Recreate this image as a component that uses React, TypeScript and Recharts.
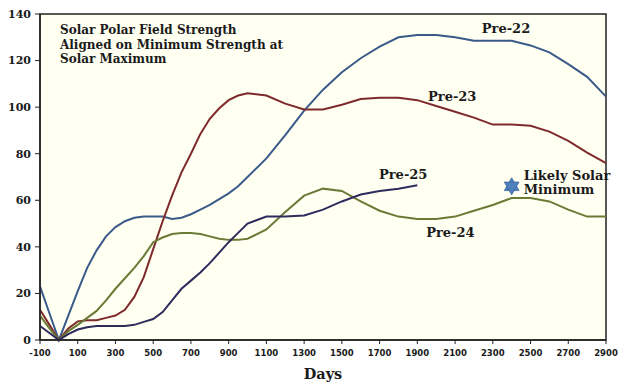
import { LineChart, Line, XAxis, YAxis, ReferenceArea, ReferenceDot, Scatter } from 'recharts';

const days = [-100, -50, 0, 50, 100, 150, 200, 250, 300, 350, 400, 450, 500, 550, 600, 650, 700, 750, 800, 850, 900, 950, 1000, 1100, 1200, 1300, 1400, 1500, 1600, 1700, 1800, 1900, 2000, 2100, 2200, 2300, 2400, 2500, 2600, 2700, 2800, 2900];

const pre22 = [23, 11.5, 0, 10.5, 21, 31, 38.5, 44.5, 48.5, 51, 52.5, 53, 53, 53, 52, 52.5, 54, 56, 58, 60.5, 63, 66, 70, 78, 88, 98.5, 107.5, 115, 121, 126, 130, 131, 131, 130, 128.5, 128.5, 128.5, 126.5, 123.5, 118.5, 113, 104.5];
const pre23 = [13, 6.5, 0, 5, 8, 8.5, 8.5, 9.5, 10.5, 13, 18.5, 27, 39, 51, 62, 72, 80, 88.5, 95, 99.5, 103, 105, 106, 105, 101.5, 99, 99, 101, 103.5, 104, 104, 103, 100.5, 98, 95.5, 92.5, 92.5, 92, 89.5, 85.5, 80.5, 76];
const pre24 = [10.5, 5, 0, 3.8, 6.5, 9.5, 12.5, 17, 22, 26.5, 31, 36, 42, 44, 45.5, 46, 46, 45.5, 44.5, 43.5, 43, 43, 43.5, 47.5, 55, 62, 65, 64, 59.5, 55.5, 53, 52, 52, 53, 55.5, 58, 61, 61, 59.5, 56, 53, 53];
const pre25 = [6, 3, 0, 2.5, 4.5, 5.5, 6, 6, 6, 6, 6.5, 7.8, 9, 12, 17, 22, 25.5, 29, 33, 37.5, 42, 46, 50, 53, 53, 53.5, 56, 59.5, 62.5, 64, 65, 66.5, null, null, null, null, null, null, null, null, null, null];

const dayTicks = [-100, 100, 300, 500, 700, 900, 1100, 1300, 1500, 1700, 1900, 2100, 2300, 2500, 2700, 2900];
const valueTicks = [0, 20, 40, 60, 80, 100, 120, 140];

const likelyMinimum = [{ day: 2400, value: 66 }];

const rows = days.map((day, i) => ({ day, pre22: pre22[i], pre23: pre23[i], pre24: pre24[i], pre25: pre25[i] }));

const SERIF = '"DejaVu Serif", Georgia, serif';

function StarOfDavid(props: any) {
  const { cx, cy } = props;
  const r = 8.5;
  const tri = (rot: number) =>
    [0, 1, 2]
      .map((k) => {
        const a = rot + (k * 2 * Math.PI) / 3;
        return `${cx + r * Math.sin(a)},${cy - r * Math.cos(a)}`;
      })
      .join(' ');
  return (
    <g>
      <polygon points={tri(0)} fill="#4F81BD" stroke="#3A66A0" strokeWidth={0.8} />
      <polygon points={tri(Math.PI)} fill="#4F81BD" stroke="#3A66A0" strokeWidth={0.8} />
    </g>
  );
}

const noteLabel = (lines: string[], anchor: 'middle' | 'start', dx = 0) => (props: any) => {
  const { x, y } = props.viewBox;
  return (
    <text x={x + dx} y={y} textAnchor={anchor} fontFamily={SERIF} fontWeight="bold" fontSize={13} fill="#1a1a1a">
      {lines.map((l, i) => (
        <tspan key={l} x={x + dx} dy={i === 0 ? '0.35em' : '1.05em'}>
          {l}
        </tspan>
      ))}
    </text>
  );
};

export default function App() {
  return (
    <div style={{ position: 'absolute', left: 0, top: 0, width: 624, height: 385, background: '#fff' }}>
      <LineChart width={624} height={385} data={rows} margin={{ top: 14, right: 18, left: 0, bottom: 0 }}>
        <XAxis
          dataKey="day"
          type="number"
          domain={[-100, 2900]}
          ticks={dayTicks}
          height={45}
          tickSize={4}
          tickMargin={6}
          tick={{ fontSize: 8.5, fontFamily: '"DejaVu Sans", Verdana, sans-serif', fontWeight: 'bold', fill: '#1a1a1a' }}
          axisLine={{ stroke: '#222', strokeWidth: 1.5 }}
          tickLine={{ stroke: '#222' }}
          label={{ value: 'Days', position: 'insideBottom', offset: 6, style: { fontFamily: SERIF, fontWeight: 'bold', fontSize: 14.5, fill: '#1a1a1a' } }}
        />
        <YAxis
          type="number"
          domain={[0, 140]}
          ticks={valueTicks}
          width={40}
          tickSize={5}
          tickMargin={4}
          tick={{ fontSize: 11, fontFamily: SERIF, fontWeight: 'bold', fill: '#1a1a1a' }}
          axisLine={{ stroke: '#222', strokeWidth: 1.5 }}
          tickLine={{ stroke: '#222' }}
        />
        <ReferenceArea x1={-100} x2={2900} y1={0} y2={140} fill="#FFFFF2" fillOpacity={1} stroke="#222" strokeWidth={1.5} />
        <Line dataKey="pre22" stroke="#3A5A8A" strokeWidth={2} dot={false} isAnimationActive={false} />
        <Line dataKey="pre23" stroke="#7E2A2A" strokeWidth={2} dot={false} isAnimationActive={false} />
        <Line dataKey="pre24" stroke="#6B7A35" strokeWidth={2} dot={false} isAnimationActive={false} />
        <Line dataKey="pre25" stroke="#2E2C5C" strokeWidth={2} dot={false} connectNulls={false} isAnimationActive={false} />
        <Scatter data={likelyMinimum} dataKey="value" shape={StarOfDavid} isAnimationActive={false} />
        <ReferenceDot x={2370} y={134} r={0} label={noteLabel(['Pre-22'], 'middle')} />
        <ReferenceDot x={2085} y={104.5} r={0} label={noteLabel(['Pre-23'], 'middle')} />
        <ReferenceDot x={1825} y={71} r={0} label={noteLabel(['Pre-25'], 'middle')} />
        <ReferenceDot x={2075} y={46} r={0} label={noteLabel(['Pre-24'], 'middle')} />
        <ReferenceDot x={2400} y={70.5} r={0} label={noteLabel(['Likely Solar', 'Minimum'], 'start', 12)} />
      </LineChart>
      <div
        style={{
          position: 'absolute',
          left: 60,
          top: 23,
          fontFamily: SERIF,
          fontWeight: 'bold',
          fontSize: 12,
          lineHeight: '14.5px',
          color: '#1a1a1a',
        }}
      >
        Solar Polar Field Strength
        <br />
        Aligned on Minimum Strength at
        <br />
        Solar Maximum
      </div>
    </div>
  );
}
